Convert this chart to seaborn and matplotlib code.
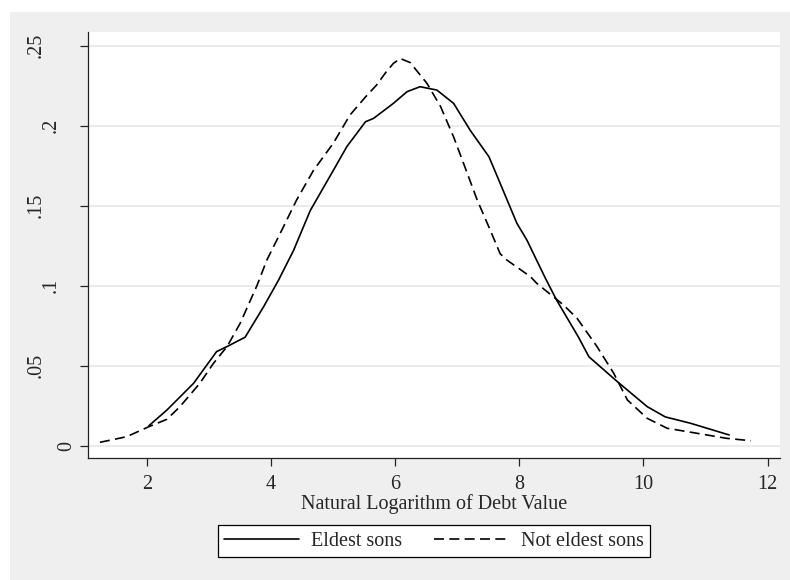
import numpy as np
import pandas as pd
import seaborn as sns
import matplotlib.pyplot as plt
from matplotlib.patches import Rectangle
from matplotlib.transforms import ScaledTranslation

# Kernel density curves
eldest_x = [2.03, 2.32, 2.75, 3.12, 3.29, 3.58, 3.88, 4.12, 4.36, 4.63, 5.0, 5.22,
            5.52, 5.65, 5.97, 6.19, 6.40, 6.67, 6.94, 7.21, 7.51, 7.69, 7.96, 8.12,
            8.42, 8.60, 8.95, 9.12, 9.58, 10.06, 10.35, 10.76, 11.38]
eldest_y = [0.0125, 0.0223, 0.039, 0.0588, 0.062, 0.0678, 0.087, 0.1036, 0.122, 0.147,
            0.172, 0.187, 0.2025, 0.2046, 0.214, 0.2213, 0.2244, 0.2223, 0.214, 0.197,
            0.1806, 0.164, 0.139, 0.1286, 0.1046, 0.091, 0.068, 0.0556, 0.040, 0.0244,
            0.018, 0.014, 0.0067]

other_x = [1.24, 1.67, 2.03, 2.32, 2.53, 2.85, 3.07, 3.29, 3.5, 3.77, 3.93, 4.2, 4.41,
           4.68, 5.0, 5.27, 5.52, 5.70, 5.85, 5.97, 6.08, 6.24, 6.51, 6.73, 6.94, 7.10,
           7.32, 7.53, 7.69, 7.80, 8.18, 8.28, 8.71, 8.93, 9.25, 9.52, 9.74, 10.06,
           10.38, 10.87, 11.34, 11.73]
other_y = [0.0021, 0.0056, 0.0119, 0.0165, 0.0244, 0.039, 0.0515, 0.062, 0.0765, 0.100,
           0.116, 0.137, 0.1536, 0.172, 0.189, 0.2067, 0.218, 0.2255, 0.2335, 0.239,
           0.242, 0.2395, 0.2265, 0.212, 0.193, 0.1765, 0.1536, 0.1348, 0.120, 0.116,
           0.1056, 0.1015, 0.088, 0.0796, 0.062, 0.0453, 0.0286, 0.0171, 0.0109, 0.0077,
           0.0046, 0.0031]

x_ticks = [2, 4, 6, 8, 10, 12]
y_ticks = [0, 0.05, 0.1, 0.15, 0.2, 0.25]
y_tick_labels = ['0', '.05', '.1', '.15', '.2', '.25']

sns.set_style('white')
plt.rcParams['font.family'] = ['Liberation Serif', 'DejaVu Serif']
fs = 14.5
plt.rcParams['font.size'] = fs

fig = plt.figure(figsize=(7.9, 5.8), dpi=100)
fig.patch.set_facecolor('white')
fig.patches.append(Rectangle((10 / 790, 0), 780 / 790, 568 / 580, transform=fig.transFigure,
                             facecolor='#efefef', edgecolor='none', zorder=-10))

ax = fig.add_axes([88 / 790, 1 - 458 / 580, 692 / 790, 426 / 580])
ax.set_facecolor('white')

sns.lineplot(x=eldest_x, y=eldest_y, ax=ax, color='black', lw=1.2, label='Eldest sons')
sns.lineplot(x=other_x, y=other_y, ax=ax, color='black', lw=1.2, label='Not eldest sons',
             linestyle=(0, (6, 3.2)))

ax.set_xlim(1.048, 12.2)
ax.set_ylim(-0.0077, 0.2586)
ax.set_xticks(x_ticks)
ax.set_yticks(y_ticks)
ax.set_yticklabels(y_tick_labels, rotation=90, va='center')

ax.grid(axis='y', color='#e6e6e6', lw=1.1)
ax.grid(axis='x', visible=False)
ax.set_axisbelow(True)
for side in ['top', 'right']:
    ax.spines[side].set_visible(False)
for side in ['left', 'bottom']:
    ax.spines[side].set_color('#222222')
    ax.spines[side].set_linewidth(0.9)

ax.tick_params(axis='both', direction='out', length=5.8, width=0.9, color='#222222',
               labelsize=fs, bottom=True, left=True)
ax.tick_params(axis='y', pad=3)
ax.tick_params(axis='x', pad=6.5)

# stagger the rotated y labels like the original output
for lab in ax.get_yticklabels():
    shift = (len(lab.get_text()) - 1) * 10.8 / 72
    lab.set_transform(lab.get_transform() + ScaledTranslation(-shift, 0, fig.dpi_scale_trans))

ax.set_xlabel('Natural Logarithm of Debt Value', fontsize=fs, labelpad=0)
ax.set_ylabel('')

ax.get_legend().remove()
handles, labels = ax.get_legend_handles_labels()
leg = fig.legend(handles, labels, loc='center', bbox_to_anchor=(434 / 790, 1 - 541 / 580),
                 ncol=2, frameon=True, fancybox=False, edgecolor='black', facecolor='white',
                 framealpha=1, fontsize=fs, handlelength=3.7, handletextpad=0.6,
                 columnspacing=1.6, borderpad=0.3, borderaxespad=0)
leg.get_frame().set_linewidth(0.9)

fig.savefig('out.png', dpi=100)
